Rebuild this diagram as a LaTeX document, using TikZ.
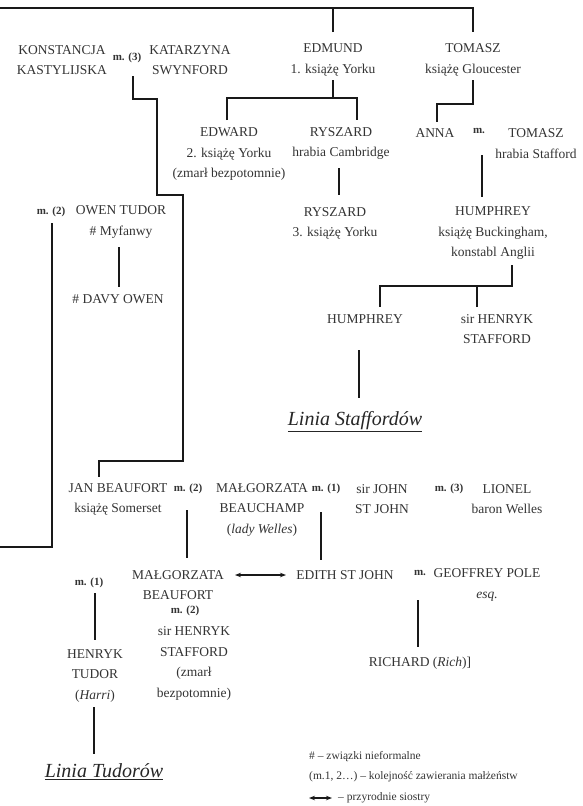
\documentclass[tikz,border=0pt]{standalone}
\usepackage{fontspec}
\setmainfont{Liberation Serif}
\usetikzlibrary{arrows.meta}
\definecolor{ink}{gray}{0.2}
\definecolor{wire}{gray}{0.1}

\begin{document}
\begin{tikzpicture}[x=1pt,y=-1pt,
  person/.style={align=center,inner sep=0pt,text=ink,font=\fontsize{13.5}{20.5}\selectfont},
  marr/.style={inner sep=0pt,text=ink,font=\fontsize{11}{12}\selectfont\bfseries},
  tie/.style={line width=2.4pt,draw=wire},
  linia/.style={inner sep=0pt,text=black!85,font=\fontsize{20}{24}\selectfont\itshape},
  legend/.style={anchor=west,inner sep=0pt,text=ink,font=\fontsize{11.5}{13}\selectfont},
  sis/.style={line width=1.6pt,draw=wire,{Stealth[length=6pt]}-{Stealth[length=6pt]}}]
\useasboundingbox (0,0) rectangle (583,806);

\node[person] (konst) at (62,60) {KONSTANCJA\\KASTYLIJSKA};
\node[marr] (m3a) at (127,58) {m. (3)};
\node[person] (katarz) at (190,60) {KATARZYNA\\SWYNFORD};
\node[person] (edmund) at (333,60) {EDMUND\\1. książę Yorku};
\node[person] (tomaszG) at (473,60) {TOMASZ\\książę Gloucester};
\node[person] (edward) at (229,154) {EDWARD\\2. książę Yorku\\(zmarł bezpotomnie)};
\node[person] (ryszC) at (341,143.5) {RYSZARD\\hrabia Cambridge};
\node[person] (anna) at (435,133) {ANNA};
\node[marr] (mA) at (479,131) {m.};
\node[person] (tomaszS) at (536,143.5) {TOMASZ\\hrabia Stafford};
\node[person] (ryszY) at (335,223.5) {RYSZARD\\3. książę Yorku};
\node[person] (humB) at (493,233.5) {HUMPHREY\\książę Buckingham,\\konstabl Anglii};
\node[person] (hum) at (365,319) {HUMPHREY};
\node[person] (henrykS) at (497,329) {sir HENRYK\\STAFFORD};
\node[linia] (liniaS) at (355,422) {\underline{Linia Staffordów}};
\node[marr] (m2a) at (51,212) {m. (2)};
\node[person] (owen) at (121,222) {OWEN TUDOR\\\# Myfanwy};
\node[person] (davy) at (118,299) {\# DAVY OWEN};
\node[person] (jan) at (118,499.5) {JAN BEAUFORT\\książę Somerset};
\node[marr] (m2b) at (188,489) {m. (2)};
\node[person] (malgB) at (262,509.5) {MAŁGORZATA\\BEAUCHAMP\\(\textit{lady Welles})};
\node[marr] (m1a) at (326,489) {m. (1)};
\node[person] (john) at (382,499) {sir JOHN\\ST JOHN};
\node[marr] (m3b) at (449,489) {m. (3)};
\node[person] (lionel) at (507,499) {LIONEL\\baron Welles};
\node[person] (malgBf) at (178,585) {MAŁGORZATA\\BEAUFORT};
\node[marr] (m2c) at (185,611) {m. (2)};
\node[person] (edith) at (345,575) {EDITH ST JOHN};
\node[marr] (mB) at (420,573) {m.};
\node[person] (geoff) at (487,585) {GEOFFREY POLE\\\textit{esq.}};
\node[person] (richard) at (420,663) {RICHARD (\textit{Rich})]};
\node[marr] (m1b) at (89,583) {m. (1)};
\node[person] (henrykT) at (95,676) {HENRYK\\TUDOR\\(\textit{Harri})};
\node[person] (henrykSt) at (194,663.5) {sir HENRYK\\STAFFORD\\(zmarł\\bezpotomnie)};
\node[linia] (liniaT) at (104,772) {\underline{Linia Tudorów}};
\node[legend] (leg1) at (309,757) {\# – związki nieformalne};
\node[legend] (leg2) at (309,777) {(m.1, 2…) – kolejność zawierania małżeństw};
\node[legend] (leg3) at (338,798) {– przyrodnie siostry};

\coordinate (t0) at (0,8);
\coordinate (t1) at (473,8);
\coordinate (edmUp) at (333,32);
\coordinate (tomUp) at (473,32);
\draw[tie] (t0) -- (t1) -- (tomUp);
\draw[tie] (edmUp) -- (edmUp |- t0);

\coordinate (edmDn) at (333,80);
\coordinate (edmBar) at (333,98);
\coordinate (edwUp) at (227,120);
\coordinate (rysUp) at (357,120);
\draw[tie] (edmDn) -- (edmBar);
\draw[tie] (edwUp) |- (edmBar) -| (rysUp);
\coordinate (rysDn) at (339,168);
\draw[tie] (rysDn) -- ++(0,27);

\coordinate (tomDn) at (473,80);
\coordinate (annaUp) at (437,122);
\draw[tie] (tomDn) -- ++(0,24) -| (annaUp);
\coordinate (mAdn) at (482,155);
\draw[tie] (mAdn) -- ++(0,42);

\coordinate (humDn) at (512,265);
\coordinate (humUp) at (380,307);
\coordinate (henUp) at (477,307);
\draw[tie] (humDn) -- ++(0,21) -| (humUp);
\draw[tie] (henUp) -- ++(0,-21);
\coordinate (humStaf) at (359,350);
\draw[tie] (humStaf) -- ++(0,48);

\coordinate (m3aDn) at (133,76);
\coordinate (janUp) at (99,477);
\draw[tie] (m3aDn) |- ++(24,23) |- ++(26,96) -- ++(0,266) -| (janUp);
\coordinate (owenDn) at (119,247);
\draw[tie] (owenDn) -- ++(0,40);
\coordinate (m2aDn) at (52,223);
\coordinate (edgeL) at (0,547);
\draw[tie] (m2aDn) |- (edgeL);

\coordinate (m2bDn) at (187,510);
\draw[tie] (m2bDn) -- ++(0,48);
\coordinate (m1aDn) at (321,512);
\draw[tie] (m1aDn) -- ++(0,48);
\coordinate (sisL) at (235,575);
\coordinate (sisR) at (286,575);
\draw[sis] (sisL) -- (sisR);
\coordinate (mBdn) at (418,600);
\draw[tie] (mBdn) -- ++(0,47);
\coordinate (m1bDn) at (95,593);
\draw[tie] (m1bDn) -- ++(0,47);
\coordinate (harriDn) at (94,707);
\draw[tie] (harriDn) -- ++(0,47);
\coordinate (legL) at (309,798);
\coordinate (legR) at (332,798);
\draw[sis] (legL) -- (legR);
\end{tikzpicture}
\end{document}
